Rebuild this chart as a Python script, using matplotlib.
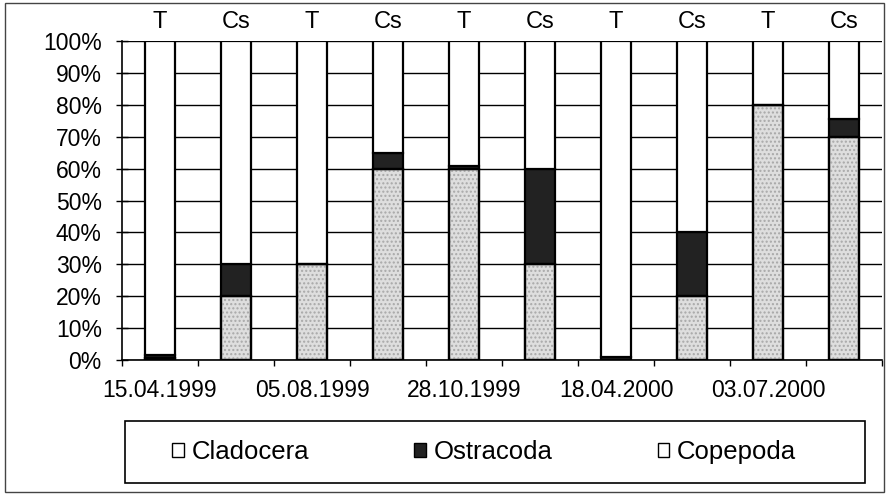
import matplotlib
matplotlib.use("Agg")

import numpy as np
import matplotlib.pyplot as plt
from matplotlib.patches import Patch, Rectangle
from matplotlib.ticker import FixedLocator, PercentFormatter

plt.rcParams['font.family'] = ['Liberation Sans', 'DejaVu Sans']

# Дані (частки, %)
samples = ['T', 'Cs', 'T', 'Cs', 'T', 'Cs', 'T', 'Cs', 'T', 'Cs']
dates = ['15.04.1999', '05.08.1999', '28.10.1999', '18.04.2000', '03.07.2000']
cladocera = [0.5, 20, 30, 60, 60, 30, 0, 20, 80, 70]
ostracoda = [1, 10, 0, 5, 0.7, 30, 1, 20, 0, 5.5]
copepoda = [98.5, 70, 70, 35, 39.3, 40, 99, 60, 20, 24.5]

fig = plt.figure(figsize=(8.88, 4.94), dpi=100)
ax = fig.add_axes([122 / 888, 134 / 494, 760 / 888, 319 / 494])

x = np.arange(len(samples))
w = 0.4
lw = 1.6

# Cladocera - світло-сірий "крапчастий" фон
ax.bar(x, cladocera, w, color='#dedede', edgecolor='black', linewidth=lw, zorder=3)
ax.bar(x, cladocera, w, fill=False, hatch='....', edgecolor='#a8a8a8', linewidth=0, zorder=3)
ax.bar(x, cladocera, w, fill=False, edgecolor='black', linewidth=lw, zorder=4)
bottom2 = np.array(cladocera)
ax.bar(x, ostracoda, w, bottom=bottom2, color='#222222', edgecolor='black', linewidth=lw, zorder=3)
bottom3 = bottom2 + np.array(ostracoda)
ax.bar(x, copepoda, w, bottom=bottom3, color='white', edgecolor='black', linewidth=lw, zorder=3)

# Осі
ax.set_xlim(-0.5, len(samples) - 0.5)
ax.set_ylim(0, 100)
ax.set_yticks(np.arange(0, 101, 10))
ax.yaxis.set_major_formatter(PercentFormatter(decimals=0))
ax.grid(axis='y', color='black', linewidth=1, zorder=1)
ax.set_axisbelow(True)

ax.set_xticks(x[::2])
ax.set_xticklabels(dates)
ax.xaxis.set_minor_locator(FixedLocator(np.arange(-0.5, len(samples), 1)))
ax.tick_params(axis='x', which='major', length=0, pad=14, labelsize=16.5)
ax.tick_params(axis='x', which='minor', length=4, direction='out', width=1)
ax.tick_params(axis='y', direction='inout', length=9, width=1, pad=10, labelsize=16.5)

for s in ['top', 'right']:
    ax.spines[s].set_visible(False)
for s in ['left', 'bottom']:
    ax.spines[s].set_linewidth(1.2)

# Підписи T / Cs над стовпцями
for i, s in enumerate(samples):
    ax.text(i, 1.058, s, transform=ax.get_xaxis_transform(), ha='center', va='center', fontsize=17)

# Легенда в окремій рамці
fig.patches.append(Rectangle((125 / 888, 11 / 494), 740 / 888, 62 / 494, transform=fig.transFigure,
                             fill=False, edgecolor='black', linewidth=1.2))
handles = [Patch(facecolor='white', edgecolor='black', linewidth=1),
           Patch(facecolor='#222222', edgecolor='black', linewidth=1),
           Patch(facecolor='white', edgecolor='black', linewidth=1)]
fig.legend(handles, ['Cladocera', 'Ostracoda', 'Copepoda'], ncol=3, frameon=False,
           loc='center', bbox_to_anchor=(484 / 888, 42 / 494), fontsize=18.5,
           handlelength=0.45, handleheight=0.45, handletextpad=0.3, columnspacing=4.1)

# Рамка навколо всього рисунка
fig.patches.append(Rectangle((5 / 888, 2 / 494), 879 / 888, 489 / 494, transform=fig.transFigure,
                             fill=False, edgecolor='#444444', linewidth=1))

fig.savefig('out.png', dpi=100)
